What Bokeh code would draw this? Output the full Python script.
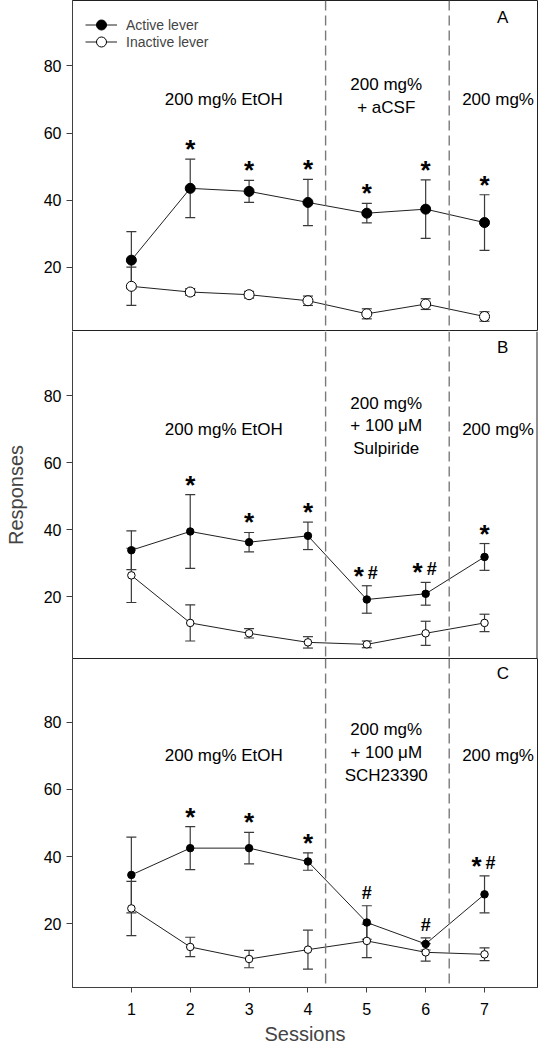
import numpy as np
from bokeh.plotting import figure
from bokeh.models import Range1d, FixedTicker, Span, Legend, LegendItem
from bokeh.layouts import column
from bokeh.embed import file_html
from bokeh.resources import INLINE
from bokeh.core.properties import value

# ---------------- data ----------------
sessions = [1, 2, 3, 4, 5, 6, 7]
session_ticks = [1, 2, 3, 4, 5, 6, 7]
y_ticks = [20, 40, 60, 80]
phase_bounds = [4.3, 6.4]

a_active = [22.1, 43.5, 42.6, 39.3, 36.1, 37.3, 33.3]
a_active_se = [8.5, 8.7, 3.3, 6.9, 2.9, 8.7, 8.3]
a_inactive = [14.3, 12.6, 11.8, 10.0, 6.1, 9.0, 5.3]
a_inactive_se = [5.7, 1.0, 1.0, 1.4, 1.5, 1.6, 1.4]
a_sig = ["", "*", "*", "*", "*", "*", "*"]
a_phases = ["200 mg% EtOH", "200 mg%\n+ aCSF", "200 mg%"]

b_active = [33.9, 39.5, 36.3, 38.2, 19.2, 20.9, 31.9]
b_active_se = [5.8, 11.0, 2.9, 4.1, 4.1, 3.4, 4.0]
b_inactive = [26.4, 12.2, 9.1, 6.4, 5.8, 9.1, 12.2]
b_inactive_se = [8.1, 5.4, 1.4, 1.7, 1.0, 3.6, 2.6]
b_sig = ["", "*", "*", "*", "*#", "*#", "*"]
b_phases = ["200 mg% EtOH", "200 mg%\n+ 100 \u03bcM\nSulpiride", "200 mg%"]

c_active = [34.5, 42.5, 42.5, 38.5, 20.3, 13.9, 28.7]
c_active_se = [11.3, 6.4, 4.7, 2.6, 5.0, 1.8, 5.5]
c_inactive = [24.5, 13.0, 9.4, 12.2, 14.8, 11.4, 10.8]
c_inactive_se = [8.1, 2.9, 2.6, 5.8, 5.0, 2.6, 1.9]
c_sig = ["", "*", "*", "*", "#", "#", "*#"]
c_phases = ["200 mg% EtOH", "200 mg%\n+ 100 \u03bcM\nSCH23390", "200 mg%"]

legend_labels = ["Active lever", "Inactive lever"]

FONT = value("Liberation Sans")
ERR = "#3a3a3a"
X_END = 7.9


def panel(active, active_se, inactive, inactive_se, sig, phases, letter,
          yr, height, bottom, show_x, ylabel, legend, msize, outline):
    p = figure(width=543, height=height, x_range=Range1d(0, X_END), y_range=Range1d(*yr),
               output_backend="svg", toolbar_location=None,
               min_border_left=72, min_border_right=6, min_border_top=0,
               min_border_bottom=bottom,
               x_axis_location="below" if show_x else None)
    p.title.visible = False
    p.grid.visible = False
    if outline:
        p.outline_line_color = "#202020"
        p.outline_line_width = 1
    else:
        p.outline_line_color = None
        p.add_layout(Span(location=X_END, dimension="height", line_color="#202020",
                          line_width=2))
    p.background_fill_color = "white"
    p.border_fill_color = "white"

    ax = p.yaxis[0]
    ax.ticker = FixedTicker(ticks=y_ticks)
    ax.major_label_text_font = "Liberation Sans"
    ax.major_label_text_font_size = "16px"
    ax.major_label_text_color = "black"
    ax.major_tick_out = 6
    ax.major_tick_in = 0
    ax.minor_tick_out = 0
    ax.minor_tick_in = 0
    ax.major_label_standoff = 5
    ax.axis_line_color = "#404040"
    ax.major_tick_line_color = "#404040"
    if ylabel:
        ax.axis_label = ylabel
        ax.axis_label_text_font = "Liberation Sans"
        ax.axis_label_text_font_size = "20px"
        ax.axis_label_text_font_style = "normal"
        ax.axis_label_standoff = 14

    if show_x:
        xa = p.xaxis[0]
        xa.ticker = FixedTicker(ticks=session_ticks)
        xa.major_label_text_font = "Liberation Sans"
        xa.major_label_text_font_size = "16px"
        xa.major_label_text_color = "black"
        xa.major_tick_out = 5
        xa.major_tick_in = 0
        xa.minor_tick_out = 0
        xa.minor_tick_in = 0
        xa.major_label_standoff = 10
        xa.axis_line_color = "#404040"
        xa.major_tick_line_color = "#404040"
        xa.axis_label = "Sessions"
        xa.axis_label_text_font = "Liberation Sans"
        xa.axis_label_text_font_size = "20px"
        xa.axis_label_text_font_style = "normal"
        xa.axis_label_standoff = 5

    for b in phase_bounds:
        p.add_layout(Span(location=b, dimension="height", line_color="#7a7a7a",
                          line_dash="10 5", line_width=1.4))

    act = np.array(active)
    ase = np.array(active_se)
    ina = np.array(inactive)
    ise = np.array(inactive_se)

    for m, s in ((ina, ise), (act, ase)):
        p.segment(x0=sessions, y0=m - s, x1=sessions, y1=m + s, line_color=ERR, line_width=1.2)
        p.scatter(x=sessions + sessions, y=list(m + s) + list(m - s), marker="dash",
                  size=10, line_color=ERR, line_width=1.2)

    l_in = p.line(sessions, inactive, line_color="#202020", line_width=1)
    l_ac = p.line(sessions, active, line_color="#202020", line_width=1)
    s_in = p.scatter(sessions, inactive, size=msize, fill_color="white", line_color="black", line_width=1)
    s_ac = p.scatter(sessions, active, size=msize, fill_color="black", line_color="black", line_width=1)

    top = list(act + ase)
    stars = ["*" if "*" in s else "" for s in sig]
    hashes = ["#" if "#" in s else "" for s in sig]
    both = ["*" in s and "#" in s for s in sig]
    p.text(x=sessions, y=top, text=stars, text_align="center", text_baseline="bottom",
           x_offset=[-8 if b else 0 for b in both], y_offset=5,
           text_font=FONT, text_font_style="bold", text_font_size="26px", text_color="black")
    p.text(x=sessions, y=top, text=hashes, text_align="center", text_baseline="bottom",
           x_offset=[6 if b else 0 for b in both], y_offset=-3,
           text_font=FONT, text_font_style="bold", text_font_size="18px", text_color="black")

    px = [2.57, 5.33, 7.23]
    py = [70.0, 71.0, 70.0]
    p.text(x=px, y=py, text=phases, text_align="center", text_baseline="middle",
           text_font=FONT, text_font_size="17px", text_color="black", text_line_height=1.2)

    p.text(x=[7.31], y=[94.5], text=[letter], text_align="center", text_baseline="middle",
           text_font=FONT, text_font_size="17px", text_color="black")

    if legend:
        common = dict(glyph_width=32, glyph_height=25, label_height=14,
                      label_standoff=9, padding=0, margin=0, spacing=0,
                      label_text_font="Liberation Sans", label_text_font_size="14px",
                      border_line_alpha=0, background_fill_alpha=0)
        lg1 = Legend(items=[LegendItem(label=legend_labels[0], renderers=[l_ac, s_ac])],
                     location=(13, 294), **common)
        lg2 = Legend(items=[LegendItem(label=legend_labels[1], renderers=[l_in, s_in])],
                     location=(13, 277), **common)
        p.add_layout(lg1)
        p.add_layout(lg2)
    return p


pa = panel(a_active, a_active_se, a_inactive, a_inactive_se, a_sig, a_phases, "A",
           (0.83, 99.5), 331, 0, False, None, True, 10, True)
pb = panel(b_active, b_active_se, b_inactive, b_inactive_se, b_sig, b_phases, "B",
           (1.58, 99.2), 327, 0, False, "Responses", False, 7.5, False)
pc = panel(c_active, c_active_se, c_inactive, c_inactive_se, c_sig, c_phases, "C",
           (0.9, 99.1), 392, 63, True, None, False, 7.5, True)

layout = column(pa, pb, pc, spacing=0)
open("out.html", "w").write(file_html(layout, INLINE))
